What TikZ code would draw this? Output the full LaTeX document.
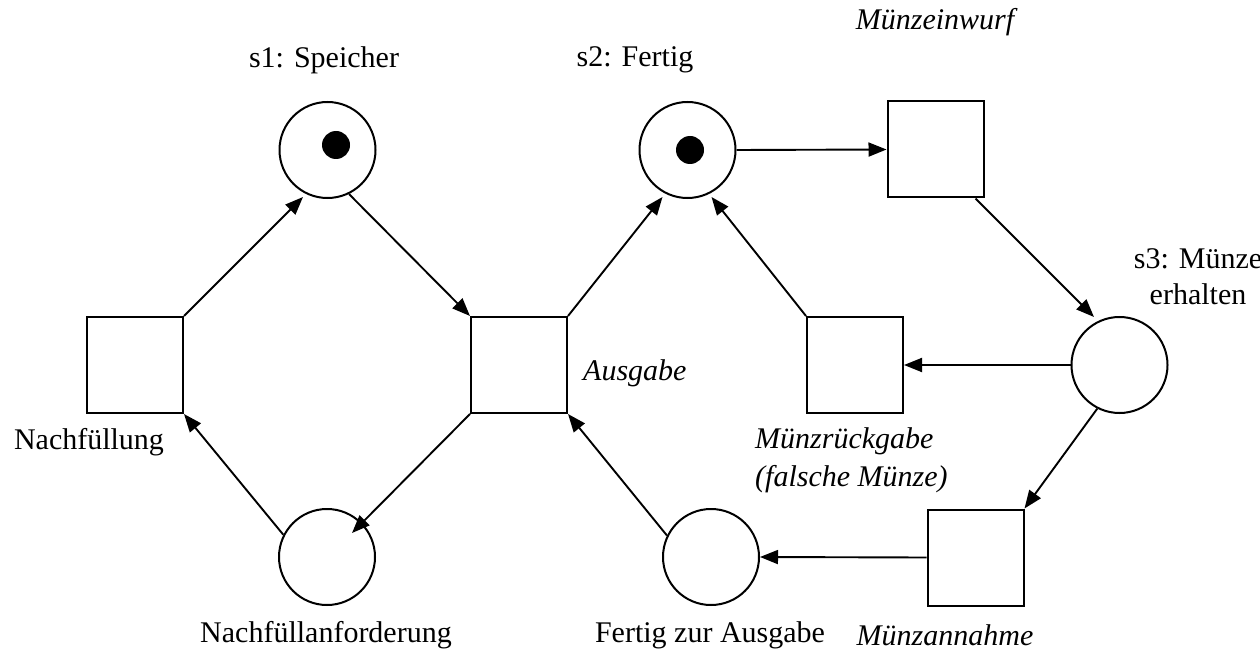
\documentclass[tikz,border=0pt]{standalone}
\usepackage{fontspec}
\setmainfont{Liberation Serif}
\usetikzlibrary{arrows.meta,calc}
\begin{document}
\begin{tikzpicture}[x=1pt,y=-1pt,
  place/.style={draw,circle,line width=2pt,minimum size=96pt,inner sep=0pt},
  trans/.style={draw,rectangle,line width=2pt,minimum size=96pt,inner sep=0pt},
  token/.style={fill,circle,minimum size=28pt,inner sep=0pt},
  arc/.style={line width=1.9pt,-{Triangle[length=18pt,width=14pt]}},
  lbl/.style={font=\fontsize{30}{36}\selectfont,inner sep=0pt},
  ilbl/.style={font=\fontsize{30}{38}\selectfont\itshape,inner sep=0pt}]
\useasboundingbox (0,0) rectangle (1260,652);
% places
\node[place] (s1) at (327.5,150) {};
\node[place] (s2) at (687.5,150) {};
\node[place] (s3) at (1119.5,365) {};
\node[place] (na) at (327,557) {};
\node[place] (fa) at (711,557) {};
\node[token] (k1) at (336,145) {};
\node[token] (k2) at (690,150) {};
% transitions
\node[trans] (tn) at (135,365) {};
\node[trans] (ta) at (519,365) {};
\node[trans] (te) at (935.5,149.5) {};
\node[trans] (tr) at (855,365) {};
\node[trans] (tm) at (975.5,557.5) {};
% labels
\node[lbl] (l1) at (324,60) {s1: Speicher};
\node[lbl] (l2) at (635,60) {s2: Fertig};
\node[ilbl] (l3) at (935,22) {Münzeinwurf};
\node[lbl,align=center] (l4) at (1198,277) {s3: Münze\\ erhalten};
\node[ilbl,anchor=west] (l5) at (583,373) {Ausgabe};
\node[lbl] (l6) at (89,442) {Nachfüllung};
\node[ilbl,anchor=west,align=left] (l7) at (755,460) {Münzrückgabe\\(falsche Münze)};
\node[lbl] (l8) at (326,635) {Nachfüllanforderung};
\node[lbl] (l9) at (710,635) {Fertig zur Ausgabe};
\node[ilbl] (l10) at (945,635) {Münzannahme};
% arcs
\draw[arc] (tn.north east) -- ($(s1.center)+(-24.5,47)$);
\draw[arc] (s1.296) -- (ta.north west);
\draw[arc] (ta.north east) -- ($(s2.center)+(-25,47)$);
\draw[arc] (tr.north west) -- ($(s2.center)+(24,47)$);
\draw[arc] (s2.east) -- (te.west);
\draw[arc] ([xshift=-9pt]te.south east) -- ($(s3.center)+(-25.5,-48)$);
\draw[arc] (s3.west) -- (tr.east);
\draw[arc] (s3.243) -- (tm.north east);
\draw[arc] (tm.west) -- (fa.east);
\draw[arc] (fa.154) -- (ta.south east);
\draw[arc] (ta.south west) -- ($(na.center)+(25,-24)$);
\draw[arc] (na.153) -- (tn.south east);
\end{tikzpicture}
\end{document}
